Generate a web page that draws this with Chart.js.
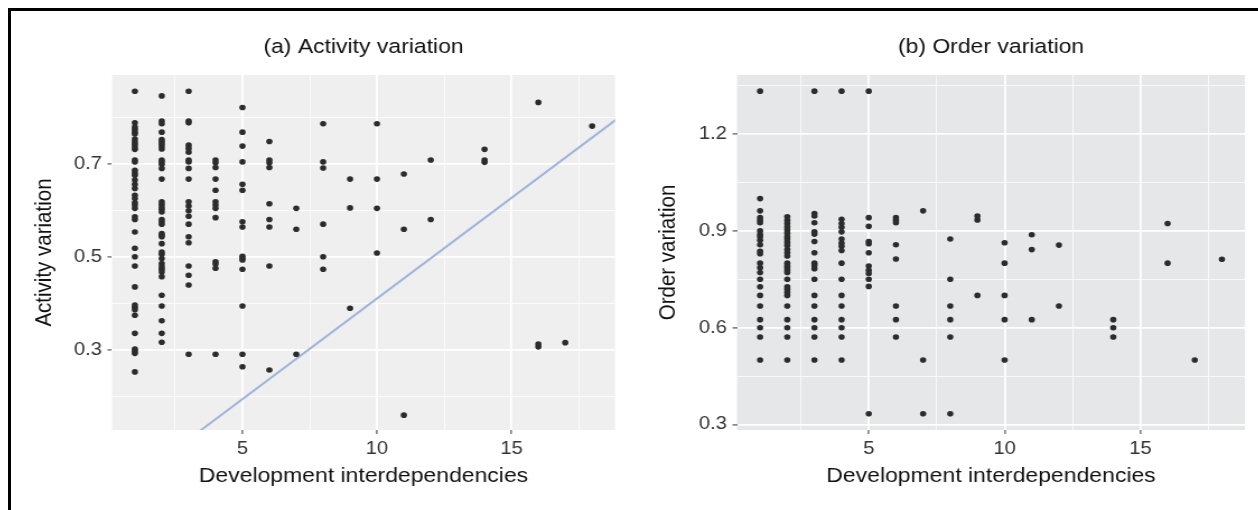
<!DOCTYPE html>
<html>
<head>
<meta charset="utf-8">
<script src="https://cdn.jsdelivr.net/npm/chart.js@4.4.1/dist/chart.umd.min.js"></script>
<style>
  html, body { margin: 0; padding: 0; background: #fff; width: 1258px; height: 510px; overflow: hidden; }
  #frame { position: absolute; left: 8px; top: 8px; width: 1300px; height: 600px;
           border-top: 3px solid #000; border-left: 3px solid #000; }
  .panel { position: absolute; top: 14px; transform-origin: 0 0; }
  .panel canvas { display: block; }
</style>
</head>
<body>
<div id="frame"></div>
<div class="panel" id="panelA"><canvas id="chartA"></canvas></div>
<div class="panel" id="panelB"><canvas id="chartB"></canvas></div>
<script>
// ---- data -------------------------------------------------------------
const devInterdependencies = [1, 2, 3, 4, 5, 6, 7, 8, 9, 10, 11, 12, 14, 16, 17, 18];

// activity variation, one list per development-interdependency count
const activityVariation = [
  [0.857,0.789,0.780,0.775,0.769,0.765,0.754,0.748,0.743,0.737,0.732,0.709,0.705,0.687,0.681,0.676,0.666,0.657,0.648,0.633,0.626,0.617,0.612,0.605,0.587,0.581,0.554,0.519,0.501,0.481,0.436,0.397,0.392,0.387,0.375,0.336,0.302,0.298,0.293,0.253],
  [0.847,0.793,0.787,0.769,0.753,0.749,0.744,0.739,0.733,0.709,0.705,0.700,0.691,0.668,0.619,0.614,0.608,0.603,0.597,0.581,0.576,0.571,0.551,0.547,0.544,0.529,0.511,0.506,0.497,0.486,0.479,0.474,0.468,0.458,0.418,0.395,0.363,0.336,0.317],
  [0.857,0.793,0.789,0.741,0.734,0.726,0.709,0.705,0.691,0.668,0.619,0.610,0.600,0.588,0.571,0.544,0.531,0.481,0.461,0.440,0.291],
  [0.709,0.703,0.693,0.668,0.644,0.619,0.612,0.605,0.585,0.490,0.485,0.476,0.291],
  [0.822,0.769,0.739,0.705,0.657,0.644,0.576,0.565,0.502,0.497,0.494,0.474,0.395,0.291,0.264],
  [0.749,0.709,0.703,0.693,0.615,0.581,0.565,0.481,0.257],
  [0.605,0.560,0.291],
  [0.787,0.705,0.692,0.571,0.501,0.474],
  [0.668,0.606,0.390],
  [0.787,0.668,0.605,0.509],
  [0.679,0.560,0.160],
  [0.709,0.581],
  [0.732,0.709,0.704],
  [0.833,0.313,0.307],
  [0.316],
  [0.782]
];

// order variation, one list per development-interdependency count
const orderVariation = [
  [1.333,1.000,0.962,0.941,0.933,0.925,0.900,0.889,0.882,0.871,0.857,0.837,0.829,0.800,0.786,0.771,0.750,0.727,0.700,0.667,0.625,0.600,0.571,0.500],
  [0.944,0.933,0.923,0.913,0.903,0.893,0.882,0.875,0.865,0.855,0.842,0.832,0.822,0.800,0.792,0.786,0.778,0.771,0.750,0.727,0.719,0.710,0.700,0.667,0.625,0.600,0.571,0.500],
  [1.333,0.954,0.946,0.925,0.897,0.890,0.867,0.832,0.800,0.793,0.783,0.750,0.700,0.667,0.625,0.600,0.571,0.500],
  [1.333,0.936,0.923,0.911,0.897,0.875,0.862,0.852,0.839,0.800,0.750,0.700,0.667,0.625,0.600,0.571,0.500],
  [1.333,0.941,0.914,0.867,0.860,0.832,0.791,0.778,0.768,0.750,0.728,0.333],
  [0.941,0.933,0.925,0.857,0.813,0.667,0.625,0.571],
  [0.962,0.500,0.333],
  [0.875,0.750,0.667,0.625,0.571,0.333],
  [0.946,0.934,0.700],
  [0.863,0.800,0.700,0.625,0.500],
  [0.888,0.842,0.625],
  [0.856,0.667],
  [0.625,0.600,0.571],
  [0.923,0.800],
  [0.500],
  [0.812]
];

// fitted trend for activity variation
const activityFit = { slope: 0.0433, intercept: -0.022 };

// axis ticks (labelled) and the unlabelled minor grid positions
const xTicks = [5, 10, 15];
const xMinor = [2.5, 7.5, 12.5, 17.5];
const activityTicks = [0.3, 0.5, 0.7];
const activityMinor = [0.2, 0.4, 0.6, 0.8];
const orderTicks = [0.3, 0.6, 0.9, 1.2];
const orderMinor = [0.45, 0.75, 1.05, 1.35];

const titleA = '(a) Activity variation';
const titleB = '(b) Order variation';
const xTitle = 'Development interdependencies';
const yTitleA = 'Activity variation';
const yTitleB = 'Order variation';

// ---- drawing ----------------------------------------------------------
const SX = 1.12;           // horizontal stretch of each panel
const TITLE_SIZE = 20.5;
const TICK_SIZE = 18;
const FONT = '"Liberation Sans", Arial, Helvetica, sans-serif';
Chart.defaults.font.family = FONT;
Chart.defaults.color = '#333';

const panelBg = {
  id: 'panelBg',
  beforeDraw(chart, args, opts) {
    const { ctx, chartArea: a } = chart;
    ctx.save();
    ctx.fillStyle = opts.color;
    ctx.fillRect(a.left, a.top, a.right - a.left, a.bottom - a.top);
    ctx.restore();
  }
};
const panelTitle = {
  id: 'panelTitle',
  afterDraw(chart, args, opts) {
    const { ctx, chartArea: a } = chart;
    ctx.save();
    ctx.font = opts.size + 'px ' + FONT;
    ctx.fillStyle = '#111';
    ctx.textAlign = 'center';
    ctx.textBaseline = 'middle';
    ctx.fillText(opts.text, (a.left + a.right) / 2, opts.y);
    ctx.restore();
  }
};

function near(v, list) { return list.some(m => Math.abs(m - v) < 1e-9); }

function axis(majors, minors, min, max, cfg) {
  const all = majors.concat(minors).sort((a, b) => a - b);
  return {
    type: 'linear', min, max,
    afterBuildTicks: s => { s.ticks = all.map(v => ({ value: v })); },
    afterFit: s => { if (cfg.width) s.width = cfg.width; if (cfg.height) s.height = cfg.height; },
    border: { display: false },
    grid: {
      color: c => c.tick && near(c.tick.value, majors) ? '#ffffff' : 'rgba(255,255,255,0.85)',
      lineWidth: c => c.tick && near(c.tick.value, majors) ? 1.8 : 0.9,
      tickColor: c => c.tick && near(c.tick.value, majors) ? '#555' : 'rgba(0,0,0,0)',
      tickLength: 4, tickWidth: 1.2
    },
    ticks: {
      autoSkip: false, maxRotation: 0, padding: cfg.tickPad,
      font: { size: TICK_SIZE }, color: '#333',
      callback: v => near(v, majors) ? String(v) : ''
    },
    title: {
      display: true, text: cfg.title, color: '#111',
      font: { size: TITLE_SIZE }, padding: cfg.titlePad
    }
  };
}

function makePanel(divId, canvasId, left, right, areaLeft, areaRight, yTitleX, opts) {
  const div = document.getElementById(divId);
  const canvas = document.getElementById(canvasId);
  const w = Math.round((right - left) / SX);
  canvas.width = w; canvas.height = 496;
  div.style.left = left + 'px';
  div.style.transform = 'scaleX(' + SX + ')';
  const yW = (areaLeft - left) / SX;
  const padR = w - (areaRight - left) / SX;
  const half = TITLE_SIZE * 0.6;

  const points = [];
  devInterdependencies.forEach((x, i) => opts.values[i].forEach(y => points.push({ x, y })));
  const datasets = [{
    type: 'scatter', data: points, pointRadius: 2.8, pointBorderWidth: 0,
    backgroundColor: '#2c2c2c', pointHoverRadius: 2.8
  }];
  if (opts.fit) {
    datasets.push({
      type: 'line', data: [0, 20].map(x => ({ x, y: opts.fit.slope * x + opts.fit.intercept })),
      borderColor: '#9fb4de', borderWidth: 2, pointRadius: 0, fill: false
    });
  }
  new Chart(canvas, {
    type: 'scatter',
    data: { datasets },
    plugins: [panelBg, panelTitle],
    options: {
      responsive: false, animation: false, devicePixelRatio: 1,
      layout: { padding: { left: 0, right: padR, top: 61, bottom: 0 } },
      plugins: {
        legend: { display: false }, tooltip: { enabled: false },
        panelBg: { color: opts.bg },
        panelTitle: { text: opts.title, y: 33, size: TITLE_SIZE }
      },
      scales: {
        x: axis(xTicks, xMinor, 0.15, 18.85, { height: 80, title: xTitle, tickPad: 4,
                titlePad: { top: 0, bottom: 34 - half } }),
        y: axis(opts.yTicks, opts.yMinor, opts.yMin, opts.yMax,
                { width: yW, title: opts.yTitle, tickPad: 5,
                  titlePad: { top: (yTitleX - left) / SX - half, bottom: 0 } })
      }
    }
  });
}

makePanel('panelA', 'chartA', 14, 628, 112, 615, 45, {
  values: activityVariation, fit: activityFit, bg: '#efefef', title: titleA, yTitle: yTitleA,
  yTicks: activityTicks, yMinor: activityMinor, yMin: 0.128, yMax: 0.892
});
makePanel('panelB', 'chartB', 630, 1258, 737, 1245, 668, {
  values: orderVariation, fit: null, bg: '#e6e7e9', title: titleB, yTitle: yTitleB,
  yTicks: orderTicks, yMinor: orderMinor, yMin: 0.283, yMax: 1.383
});
</script>
</body>
</html>
